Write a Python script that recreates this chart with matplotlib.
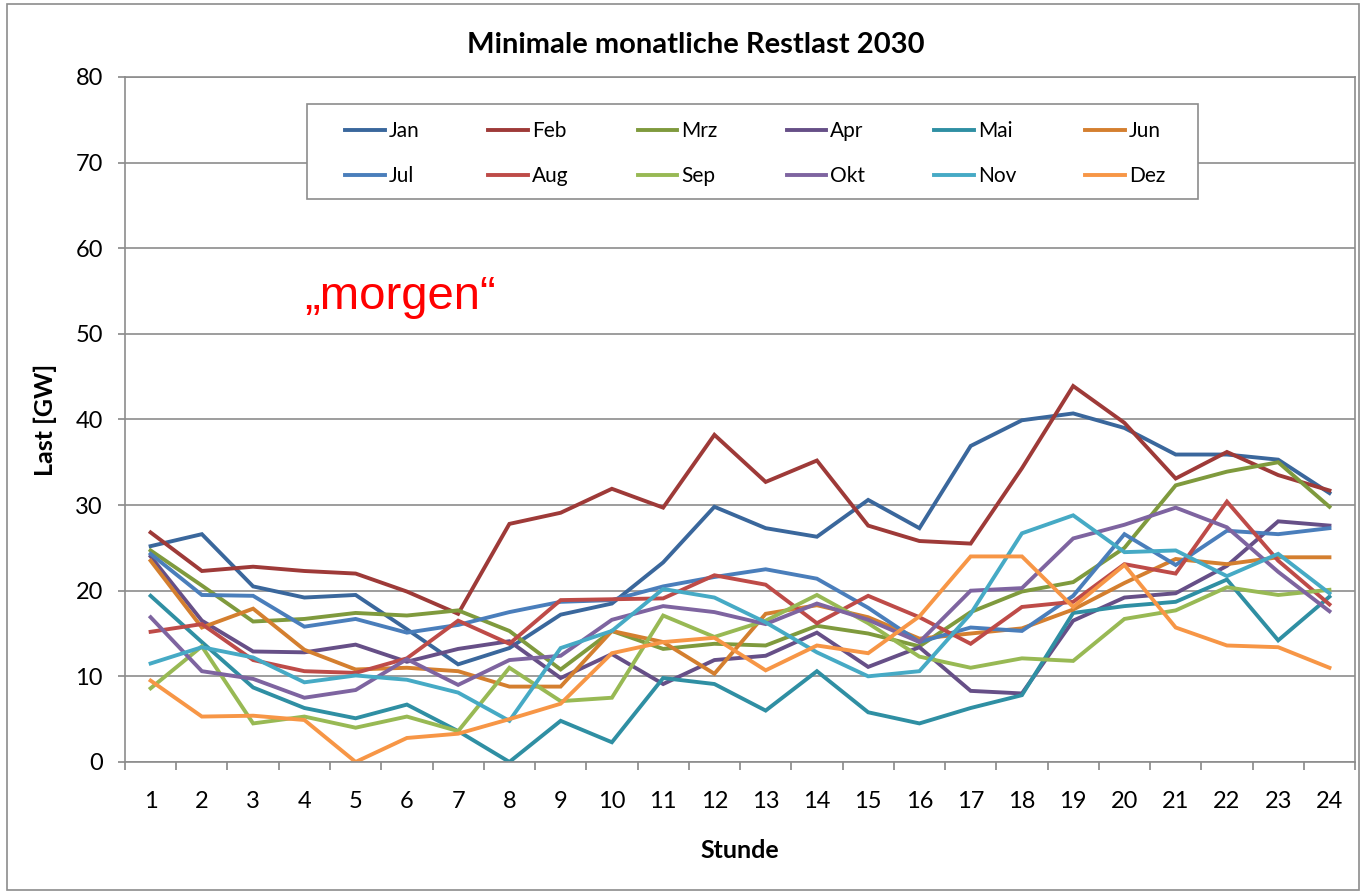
import numpy as np
import matplotlib
matplotlib.use("Agg")
import matplotlib.pyplot as plt
from matplotlib.patches import Rectangle

plt.rcParams['font.family'] = ['Lato', 'DejaVu Sans']

stunden = list(range(1, 25))
monate = ["Jan", "Feb", "Mrz", "Apr", "Mai", "Jun",
          "Jul", "Aug", "Sep", "Okt", "Nov", "Dez"]

jan = [25.2, 26.6, 20.5, 19.2, 19.5, 15.5, 11.4, 13.3, 17.2, 18.5, 23.3, 29.8,
       27.3, 26.3, 30.6, 27.3, 36.9, 39.9, 40.7, 39.0, 35.9, 35.9, 35.3, 31.4]
feb = [26.8, 22.3, 22.8, 22.3, 22.0, 19.9, 17.3, 27.8, 29.1, 31.9, 29.7, 38.2,
       32.7, 35.2, 27.6, 25.8, 25.5, 34.3, 43.9, 39.6, 33.1, 36.2, 33.5, 31.7]
mrz = [24.7, 20.6, 16.4, 16.7, 17.4, 17.1, 17.7, 15.3, 10.8, 15.3, 13.2, 13.8,
       13.6, 15.9, 15.0, 13.5, 17.5, 19.9, 21.0, 25.0, 32.3, 33.9, 35.0, 29.8]
apr = [24.0, 16.5, 12.9, 12.8, 13.7, 11.7, 13.2, 14.1, 9.8, 12.6, 9.1, 11.9,
       12.4, 15.1, 11.1, 13.4, 8.3, 8.0, 16.5, 19.2, 19.7, 22.9, 28.1, 27.6]
mai = [19.4, 14.0, 8.7, 6.3, 5.1, 6.7, 3.6, 0.0, 4.8, 2.3, 9.8, 9.1,
       6.0, 10.6, 5.8, 4.5, 6.3, 7.8, 17.4, 18.2, 18.7, 21.3, 14.2, 19.3]
jun = [23.5, 15.7, 17.9, 13.1, 10.8, 11.0, 10.6, 8.8, 8.8, 15.3, 14.0, 10.3,
       17.3, 18.3, 16.9, 14.4, 15.0, 15.6, 17.8, 20.9, 23.7, 23.1, 23.9, 23.9]
jul = [24.3, 19.5, 19.4, 15.8, 16.7, 15.1, 16.0, 17.5, 18.7, 18.9, 20.5, 21.6,
       22.5, 21.4, 18.0, 14.0, 15.7, 15.3, 19.4, 26.6, 23.0, 27.0, 26.6, 27.3]
aug = [15.2, 16.1, 11.9, 10.6, 10.4, 12.1, 16.5, 13.8, 18.9, 19.0, 19.1, 21.8,
       20.7, 16.2, 19.4, 16.9, 13.8, 18.1, 18.7, 23.1, 22.0, 30.4, 23.5, 18.4]
sep = [8.6, 13.5, 4.5, 5.3, 4.0, 5.3, 3.6, 11.0, 7.1, 7.5, 17.1, 14.6,
       16.5, 19.5, 16.2, 12.3, 11.0, 12.1, 11.8, 16.7, 17.7, 20.4, 19.5, 20.1]
okt = [16.9, 10.6, 9.7, 7.5, 8.4, 12.0, 9.0, 11.9, 12.4, 16.6, 18.2, 17.5,
       16.1, 18.5, 16.6, 14.0, 20.0, 20.3, 26.1, 27.7, 29.7, 27.4, 22.2, 17.6]
nov = [11.5, 13.4, 12.2, 9.3, 10.1, 9.6, 8.1, 4.8, 13.3, 15.3, 20.2, 19.2,
       16.3, 12.8, 10.0, 10.6, 17.3, 26.7, 28.8, 24.5, 24.7, 21.7, 24.3, 19.7]
dez = [9.5, 5.3, 5.4, 4.9, 0.0, 2.8, 3.3, 5.0, 6.8, 12.7, 14.0, 14.5,
       10.7, 13.6, 12.7, 17.0, 24.0, 24.0, 18.1, 23.0, 15.7, 13.6, 13.4, 11.0]

werte = [jan, feb, mrz, apr, mai, jun, jul, aug, sep, okt, nov, dez]
farben = ["#3A679C", "#9E3A38", "#7F9A3D", "#664F87", "#2F8FA3", "#D47F2F",
          "#4A7EBB", "#BE4B48", "#98B954", "#7E64A0", "#46AAC5", "#F79646"]

fig = plt.figure(figsize=(13.66, 8.94), dpi=100)
ax = fig.add_axes([0.0915, 0.1477, 0.9005, 0.7663])

linien = []
for name, y, c in zip(monate, werte, farben):
    l, = ax.plot(stunden, y, color=c, lw=2.8, label=name, solid_joinstyle='miter')
    linien.append(l)

ax.set_xlim(0.5, 24.5)
ax.set_ylim(0, 80)
ax.set_yticks(np.arange(0, 81, 10))
ax.set_xticks(stunden)
ax.set_xticks(np.arange(0.5, 25, 1), minor=True)
ax.tick_params(axis='x', which='major', length=0, labelsize=17, pad=21)
ax.tick_params(axis='x', which='minor', length=5.5, color='#888888', width=1.2)
ax.tick_params(axis='y', length=5, color='#888888', width=1.2, labelsize=17, pad=11)
ax.grid(axis='y', color='#8c8c8c', lw=1.2)
ax.set_axisbelow(True)
for s in ax.spines.values():
    s.set_color('#8c8c8c')
    s.set_linewidth(1.2)

# Titel wie in Excel über der ganzen Grafik zentriert
fig.text(696 / 1366, 1 - 45 / 894, "Minimale monatliche Restlast 2030",
         fontsize=21, fontweight='bold', ha='center', va='center')
ax.set_ylabel("Last [GW]", fontsize=18, fontweight='bold', labelpad=13)
ax.set_xlabel("Stunde", fontsize=18, fontweight='bold', labelpad=19)

ax.text(4.0, 54.3, "\u201emorgen\u201c", color='red', fontsize=34,
        family=['Liberation Sans', 'DejaVu Sans'], va='center', ha='left')

# Legendenrahmen separat, Einträge zeilenweise wie in Excel
ax.add_patch(Rectangle(((307 - 125) / 1230, (762 - 199) / 685), 891 / 1230, 95 / 685,
                       transform=ax.transAxes, facecolor='white', edgecolor='#8c8c8c',
                       lw=1.2, zorder=4))
reihenfolge = [0, 6, 1, 7, 2, 8, 3, 9, 4, 10, 5, 11]
leg = ax.legend([linien[i] for i in reihenfolge], [monate[i] for i in reihenfolge],
                loc='center', bbox_to_anchor=(0.1789, 0.888, 0.6667, 0),
                mode='expand', ncol=6, fontsize=15, frameon=False, borderpad=0,
                handlelength=1.9, handletextpad=0.2, labelspacing=1.2, borderaxespad=0)
leg.set_zorder(5)

fig.patches.append(Rectangle((0.005, 0.005), 0.99, 0.99, transform=fig.transFigure,
                             fill=False, edgecolor='#8c8c8c', lw=1.2))

fig.savefig("out.png", dpi=100)
